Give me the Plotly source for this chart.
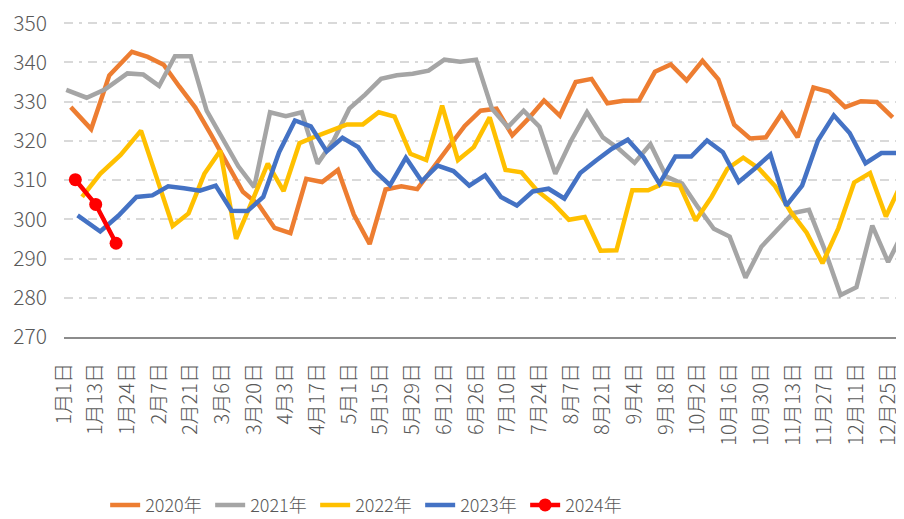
import pandas as pd
import plotly.graph_objects as go

# ---------------- data ----------------
tick_labels = ["1月1日", "1月13日", "1月24日", "2月7日", "2月21日", "3月6日", "3月20日",
               "4月3日", "4月17日", "5月1日", "5月15日", "5月29日", "6月12日", "6月26日",
               "7月10日", "7月24日", "8月7日", "8月21日", "9月4日", "9月18日", "10月2日",
               "10月16日", "10月30日", "11月13日", "11月27日", "12月11日", "12月25日"]

y_ticks = [270, 280, 290, 300, 310, 320, 330, 340, 350]

# observation dates: three early-January readings, then weekly readings
early_2020 = ["2020-01-04", "2020-01-13", "2020-01-21"]
weekly_start_2020 = "2020-01-31"
values_2020 = [328.6, 323.0, 336.7,
               342.7, 341.4, 339.4, 333.8, 328.5, 321.5, 314.5, 307.0, 303.7, 297.8,
               296.5, 310.3, 309.5, 312.6, 301.2, 293.7, 307.6, 308.4, 307.7, 313.3,
               318.5, 323.8, 327.7, 328.2, 321.4, 325.6, 330.3, 326.4, 335.0, 335.8,
               329.6, 330.2, 330.3, 337.6, 339.5, 335.4, 340.4, 335.7, 324.1, 320.6,
               320.9, 327.0, 320.9, 333.6, 332.5, 328.6, 330.1, 329.9, 326.0]

early_2021 = ["2021-01-02", "2021-01-11", "2021-01-19"]
weekly_start_2021 = "2021-01-29"
values_2021 = [333.0, 331.0, 333.1,
               337.2, 336.9, 334.0, 341.6, 341.6, 327.7, 320.5, 313.5, 308.2, 327.3,
               326.3, 327.3, 314.2, 320.0, 328.2, 331.8, 335.8, 336.7, 337.1, 337.9,
               340.7, 340.2, 340.7, 328.2, 323.5, 327.7, 323.6, 311.6, 320.1, 327.3,
               320.9, 318.0, 314.4, 319.2, 310.9, 309.1, 303.1, 297.6, 295.6, 285.1,
               293.0, 297.2, 301.6, 302.4, 292.2, 280.7, 282.7, 298.4, 289.1, 297.2]

early_2022 = ["2022-01-09", "2022-01-17", "2022-01-26"]
weekly_start_2022 = "2022-02-04"
values_2022 = [305.7, 311.6, 316.4,
               322.6, 310.5, 298.3, 301.5, 311.6, 317.5, 295.0, 304.5, 314.2, 307.2,
               319.4, 321.1, 322.5, 324.2, 324.2, 327.3, 326.2, 316.7, 315.1, 329.0,
               315.1, 318.4, 326.0, 312.6, 312.0, 307.3, 304.1, 299.9, 300.6, 292.0,
               292.1, 307.4, 307.4, 309.2, 308.6, 299.7, 305.7, 312.9, 315.7, 312.9,
               308.5, 301.9, 296.6, 288.8, 297.7, 309.4, 311.8, 300.7, 309.3]

early_2023 = ["2023-01-07", "2023-01-17", "2023-01-25"]
weekly_start_2023 = "2023-02-02"
values_2023 = [301.0, 296.9, 300.9,
               305.7, 306.1, 308.4, 307.9, 307.3, 308.6, 302.2, 302.1, 305.7, 317.1,
               325.2, 323.7, 317.3, 320.8, 318.4, 312.5, 308.7, 315.7, 309.7, 313.7,
               312.3, 308.6, 311.2, 305.7, 303.5, 307.1, 307.8, 305.3, 311.8, 315.0,
               318.0, 320.3, 315.8, 309.1, 316.0, 316.0, 320.1, 317.1, 309.5, 312.9,
               316.5, 303.5, 308.6, 320.1, 326.5, 322.0, 314.3, 316.9, 316.9]

early_2024 = ["2024-01-06", "2024-01-15", "2024-01-24"]
weekly_start_2024 = None
values_2024 = [310.1, 303.8, 293.9]

series = [
    ("2020年", 2020, early_2020, weekly_start_2020, values_2020, "#ED7D31"),
    ("2021年", 2021, early_2021, weekly_start_2021, values_2021, "#A5A5A5"),
    ("2022年", 2022, early_2022, weekly_start_2022, values_2022, "#FFC000"),
    ("2023年", 2023, early_2023, weekly_start_2023, values_2023, "#4472C4"),
    ("2024年", 2024, early_2024, weekly_start_2024, values_2024, "#FF0000"),
]


def day_offsets(year, early, weekly_start, n):
    dates = list(pd.to_datetime(early))
    if weekly_start is not None and n > len(early):
        dates += list(pd.date_range(weekly_start, periods=n - len(early), freq="7D"))
    base = pd.Timestamp(year=year, month=1, day=1)
    return [(d - base).days for d in dates[:n]]


tick_days = [14 * i for i in range(len(tick_labels))]

FONT = "Noto Sans CJK SC"
TXT = "#595959"

fig = go.Figure()
for name, year, early, wstart, vals, color in series:
    xs = day_offsets(year, early, wstart, len(vals))
    if year == 2024:
        fig.add_trace(go.Scatter(x=xs, y=vals, name=name, mode="lines+markers",
                                 line=dict(color=color, width=4.5),
                                 marker=dict(color=color, size=13)))
    else:
        fig.add_trace(go.Scatter(x=xs, y=vals, name=name, mode="lines",
                                 line=dict(color=color, width=4.5)))

# the page adds an 8px body margin, so the figure is 8px smaller than the window
fig.update_layout(
    width=896, height=511,
    margin=dict(l=56, r=0, t=13.5, b=182, autoexpand=False),
    paper_bgcolor="white", plot_bgcolor="white",
    font=dict(family=FONT, color=TXT),
    legend=dict(orientation="h", x=0.049, xanchor="left", y=-0.534, yanchor="middle",
                font=dict(size=18, color=TXT, family=FONT, weight=300),
                entrywidth=60, entrywidthmode="pixels",
                bgcolor="rgba(0,0,0,0)"),
)
fig.update_xaxes(range=[0, 371], tickmode="array", tickvals=tick_days, ticktext=tick_labels,
                 tickangle=-90, showgrid=False, zeroline=False,
                 showline=True, linecolor="#8C8C8C", linewidth=2,
                 ticks="", ticklabelstandoff=16, ticklabeloverflow="allow",
                 tickfont=dict(size=20, color=TXT, family=FONT, weight=300))
fig.update_yaxes(range=[270, 350.3], tickmode="array", tickvals=y_ticks,
                 ticktext=[str(v) for v in y_ticks], showgrid=True,
                 gridcolor="#D9D9D9", gridwidth=1.5, griddash="9px,6px,3px,6px",
                 zeroline=False, showline=False, ticks="", ticklabelstandoff=16,
                 ticklabeloverflow="allow",
                 tickfont=dict(size=21, color=TXT, family=FONT, weight=300))

fig.write_html("out.html")
